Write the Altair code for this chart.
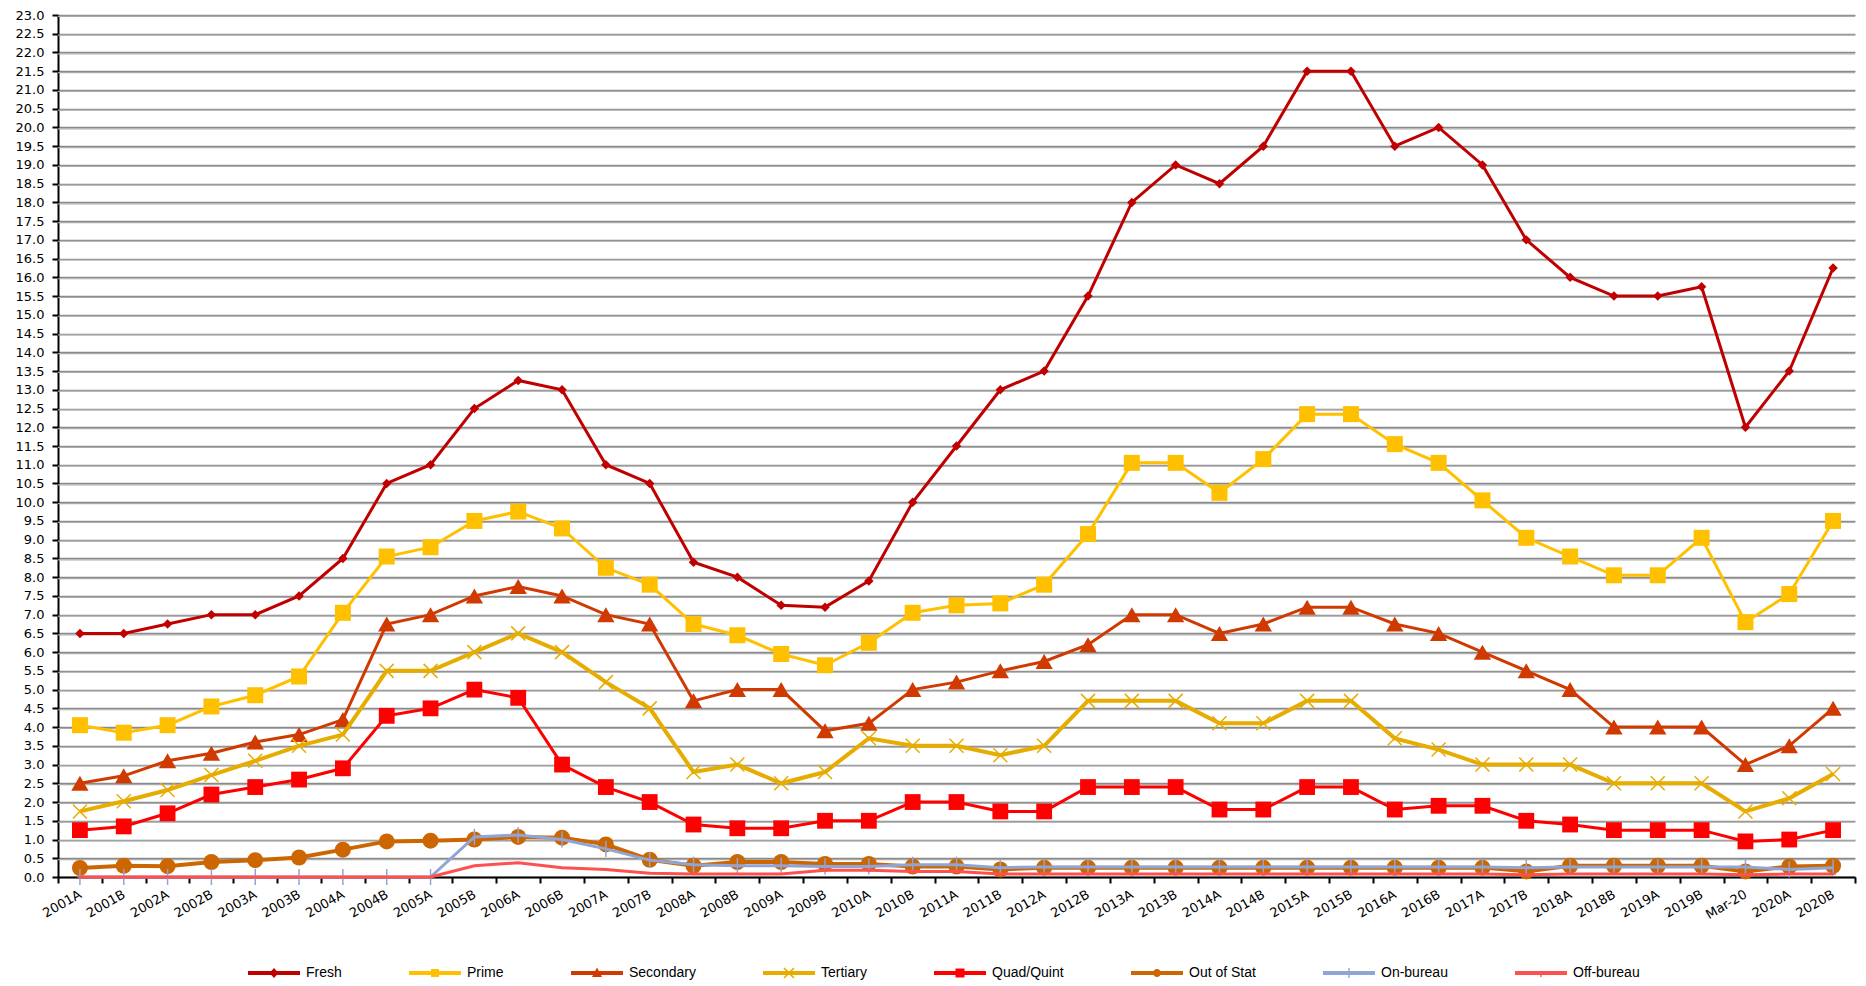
import altair as alt
import pandas as pd

# ---------------- data ----------------
categories = [f"{y}{h}" for y in range(2001, 2020) for h in ("A", "B")] + ["Mar-20", "2020A", "2020B"]

series_names = ["Fresh", "Prime", "Secondary", "Tertiary", "Quad/Quint", "Out of Stat", "On-bureau", "Off-bureau"]

fresh = [6.5, 6.5, 6.75, 7.0, 7.0, 7.5, 8.5, 10.5, 11.0, 12.5, 13.25, 13.0, 11.0, 10.5, 8.4,
         8.0, 7.25, 7.2, 7.9, 10.0, 11.5, 13.0, 13.5, 15.5, 18.0, 19.0, 18.5, 19.5, 21.5, 21.5,
         19.5, 20.0, 19.0, 17.0, 16.0, 15.5, 15.5, 15.75, 12.0, 13.5, 16.25]
prime = [4.05, 3.85, 4.05, 4.55, 4.85, 5.35, 7.05, 8.55, 8.8, 9.5, 9.75, 9.3, 8.25, 7.8, 6.75,
         6.45, 5.95, 5.65, 6.25, 7.05, 7.25, 7.3, 7.8, 9.15, 11.05, 11.05, 10.25, 11.15, 12.35, 12.35,
         11.55, 11.05, 10.05, 9.05, 8.55, 8.05, 8.05, 9.05, 6.8, 7.55, 9.5]
secondary = [2.5, 2.7, 3.1, 3.3, 3.6, 3.8, 4.2, 6.75, 7.0, 7.5, 7.75, 7.5, 7.0, 6.75, 4.7,
             5.0, 5.0, 3.9, 4.1, 5.0, 5.2, 5.5, 5.75, 6.2, 7.0, 7.0, 6.5, 6.75, 7.2, 7.2,
             6.75, 6.5, 6.0, 5.5, 5.0, 4.0, 4.0, 4.0, 3.0, 3.5, 4.5]
tertiary = [1.75, 2.02, 2.32, 2.72, 3.1, 3.5, 3.8, 5.5, 5.5, 6.0, 6.5, 6.0, 5.2, 4.5, 2.8,
            3.0, 2.5, 2.8, 3.7, 3.5, 3.5, 3.25, 3.5, 4.7, 4.7, 4.7, 4.1, 4.1, 4.7, 4.7,
            3.7, 3.4, 3.0, 3.0, 3.0, 2.5, 2.5, 2.5, 1.75, 2.1, 2.75]
quad_quint = [1.25, 1.35, 1.7, 2.2, 2.4, 2.6, 2.9, 4.3, 4.5, 5.0, 4.78, 3.0, 2.4, 2.0, 1.4,
              1.3, 1.3, 1.5, 1.5, 2.0, 2.0, 1.75, 1.75, 2.4, 2.4, 2.4, 1.8, 1.8, 2.4, 2.4,
              1.8, 1.9, 1.9, 1.5, 1.4, 1.25, 1.25, 1.25, 0.95, 1.0, 1.25]
out_of_stat = [0.24, 0.3, 0.29, 0.4, 0.45, 0.52, 0.73, 0.95, 0.97, 1.0, 1.07, 1.05, 0.87, 0.46, 0.3,
               0.4, 0.4, 0.35, 0.35, 0.28, 0.28, 0.2, 0.25, 0.25, 0.25, 0.25, 0.25, 0.25, 0.25, 0.25,
               0.25, 0.25, 0.25, 0.15, 0.3, 0.3, 0.3, 0.3, 0.15, 0.28, 0.3]
on_bureau = [0, 0, 0, 0, 0, 0, 0, 0, 0, 1.07, 1.12, 1.0, 0.75, 0.45, 0.33,
             0.3, 0.3, 0.28, 0.28, 0.33, 0.33, 0.25, 0.27, 0.27, 0.27, 0.27, 0.27, 0.27, 0.27, 0.27,
             0.27, 0.27, 0.27, 0.25, 0.27, 0.27, 0.27, 0.27, 0.27, 0.2, 0.25]
off_bureau = [0, 0, 0, 0, 0, 0, 0, 0, 0, 0.3, 0.38, 0.25, 0.2, 0.1, 0.08,
              0.08, 0.08, 0.18, 0.18, 0.15, 0.15, 0.08, 0.08, 0.08, 0.08, 0.08, 0.08, 0.08, 0.08, 0.08,
              0.08, 0.08, 0.08, 0.06, 0.08, 0.08, 0.08, 0.08, 0.06, 0.08, 0.08]

series_values = [fresh, prime, secondary, tertiary, quad_quint, out_of_stat, on_bureau, off_bureau]

y_ticks = [i * 0.5 for i in range(47)]

# ---------------- styles ----------------
colors = ["#C00000", "#FFC000", "#D03A00", "#E6AC00", "#FF0000", "#CC6600", "#8FA5D8", "#FF5050"]
line_widths = [3, 3, 3, 4, 3, 4, 3, 3]
marker_shapes = ["diamond", "square", "triangle-up", "M-1,-1L1,1M-1,1L1,-1", "square", "circle",
                 "M0,-1L0,1", "M-1,0L1,0"]
marker_sizes = [90, 256, 300, 196, 250, 256, 256, 36]
marker_filled = [True, True, True, False, True, True, False, False]

LINE = "M-2.6,-0.2H2.6V0.2H-2.6Z"
legend_paths = [
    LINE + "M0,-0.5L0.45,0L0,0.5L-0.45,0Z",
    LINE + "M-0.4,-0.4H0.4V0.4H-0.4Z",
    LINE + "M0,-0.55L0.5,0.4H-0.5Z",
    LINE + "M-0.56,-0.44L-0.44,-0.56L0.56,0.44L0.44,0.56ZM-0.56,0.44L0.44,-0.56L0.56,-0.44L-0.44,0.56Z",
    LINE + "M-0.45,-0.45H0.45V0.45H-0.45Z",
    LINE + "M-0.4,0A0.4,0.4 0 1,1 0.4,0A0.4,0.4 0 1,1 -0.4,0Z",
    LINE + "M-0.07,-0.5H0.07V0.5H-0.07Z",
    LINE + "M-0.07,0H0.07V0.4H-0.07Z",
]

rows = []
for name, vals in zip(series_names, series_values):
    for c, v in zip(categories, vals):
        rows.append({"cat": c, "value": v, "series": name})
df = pd.DataFrame(rows)
grid_df = pd.DataFrame({"value": y_ticks[1:]})

FONT = "DejaVu Sans"

X = alt.X("cat:N", sort=categories,
          scale=alt.Scale(type="band", domain=categories, paddingInner=0, paddingOuter=0),
          axis=alt.Axis(title=None, tickBand="extent", labelAngle=-30, labelAlign="right",
                        labelBaseline="middle", labelPadding=10, labelFont=FONT, labelFontSize=13,
                        labelColor="black", domainColor="black", domainWidth=2, tickColor="black",
                        tickSize=6, tickWidth=2, grid=False, labelOverlap=False))
Y = alt.Y("value:Q", scale=alt.Scale(domain=[0, 23], nice=False, zero=True),
          axis=alt.Axis(title=None, values=y_ticks, format=".1f", grid=True, gridColor="#8A8A8A",
                        gridWidth=1.6, domainColor="black", domainWidth=2, tickColor="black",
                        tickSize=6, tickWidth=2, labelFont=FONT, labelFontSize=13,
                        labelColor="black", labelPadding=8, labelOverlap=False))

layers = []
# light highlight just under each grid line (Excel-like 3D gridline)
layers.append(alt.Chart(grid_df).mark_rule(color="#ABABAB", strokeWidth=1.2, yOffset=1.4).encode(y=Y))

base = alt.Chart(df)
for i, name in enumerate(series_names):
    sub = base.transform_filter(alt.datum.series == name)
    layers.append(sub.mark_line(color=colors[i], strokeWidth=line_widths[i]).encode(x=X, y=Y))
    layers.append(sub.mark_point(shape=marker_shapes[i], size=marker_sizes[i], filled=marker_filled[i],
                                 color=colors[i], opacity=1,
                                 strokeWidth=1.5 if not marker_filled[i] else 0).encode(x=X, y=Y))

leg = alt.Legend(title=None, orient="none", direction="horizontal", columns=8, columnPadding=67,
                 labelOffset=22, legendX=206, legendY=948, labelFont="Liberation Sans",
                 labelFontSize=14, labelColor="black", symbolSize=400, symbolStrokeWidth=0)
legend_layer = base.transform_filter("false").mark_point(filled=True, opacity=1).encode(
    color=alt.Color("series:N", scale=alt.Scale(domain=series_names, range=colors), legend=leg),
    shape=alt.Shape("series:N", scale=alt.Scale(domain=series_names, range=legend_paths), legend=leg),
)
layers.append(legend_layer)

chart = alt.layer(*layers).properties(
    width=1797, height=862,
    padding={"left": 50, "top": 7, "right": 3, "bottom": 108},
    autosize="none",
).configure_view(fill="#D9D9D9", stroke=None)

chart.save("out.html", embed_options={"renderer": "svg", "actions": False})
